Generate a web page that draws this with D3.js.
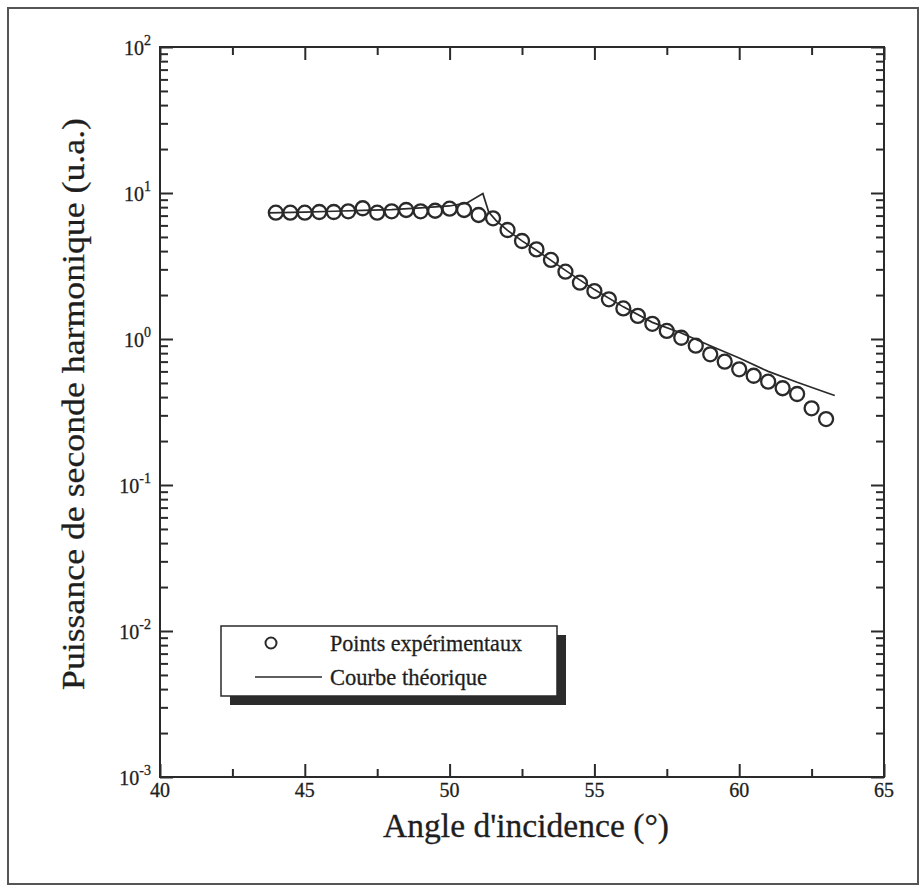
<!DOCTYPE html>
<html>
<head>
<meta charset="utf-8">
<script src="https://cdn.jsdelivr.net/npm/d3@7/dist/d3.min.js"></script>
<style>
  html, body { margin: 0; padding: 0; background: #fff; }
  svg { display: block; }
  text { font-family: "Liberation Serif", "Times New Roman", "DejaVu Serif", serif; fill: #1e1e1e; stroke: #1e1e1e; stroke-width: 0.3px; }
</style>
</head>
<body>
<svg id="chart" width="922" height="889"></svg>
<script>
// ---- Data ----
const expAngles = [44.0, 44.5, 45.0, 45.5, 46.0, 46.5, 47.0, 47.5, 48.0, 48.5,
                   49.0, 49.5, 50.0, 50.5, 51.0, 51.5, 52.0, 52.5, 53.0, 53.5,
                   54.0, 54.5, 55.0, 55.5, 56.0, 56.5, 57.0, 57.5, 58.0, 58.5,
                   59.0, 59.5, 60.0, 60.5, 61.0, 61.5, 62.0, 62.5, 63.0];
const expPower = [7.33, 7.33, 7.33, 7.41, 7.41, 7.49, 7.86, 7.33, 7.49, 7.65,
                  7.49, 7.56, 7.81, 7.65, 7.07, 6.71, 5.58, 4.69, 4.11, 3.48,
                  2.89, 2.43, 2.13, 1.87, 1.62, 1.44, 1.27, 1.135, 1.02, 0.90,
                  0.785, 0.70, 0.62, 0.56, 0.51, 0.46, 0.42, 0.335, 0.283];
const theoAngles = [43.75, 45, 46, 47, 48, 49, 50, 50.6, 51.15, 51.35, 51.6, 52, 52.5,
                    53, 54, 55, 56, 57, 58, 59, 60, 61, 62, 63, 63.3];
const theoPower = [7.3, 7.4, 7.5, 7.6, 7.7, 7.9, 8.15, 8.55, 9.9, 7.4, 6.5, 5.55, 4.7,
                   4.05, 2.95, 2.18, 1.66, 1.3, 1.1, 0.9, 0.74, 0.6, 0.505, 0.43, 0.41];
const xMajorTicks = [40, 45, 50, 55, 60, 65];
const xMinorTicks = [42.5, 47.5, 52.5, 57.5, 62.5];
const yMajorTicks = [1e-3, 1e-2, 1e-1, 1e0, 1e1, 1e2];
const yTickExponents = ["-3", "-2", "-1", "0", "1", "2"];
const xTitle = "Angle d'incidence (°)";
const yTitle = "Puissance de seconde harmonique (u.a.)";
const legendLabels = ["Points expérimentaux", "Courbe théorique"];

// ---- Layout ----
const svg = d3.select("#chart");
const L = 160, R = 884, T = 47, B = 777;
const x = d3.scaleLinear().domain([40, 65]).range([L, R]);
const y = d3.scaleLog().domain([1e-3, 1e2]).range([B, T]);
const ink = "#2a2a2a";

// outer frame
svg.append("rect").attr("x", 8).attr("y", 8).attr("width", 910).attr("height", 876)
  .attr("fill", "none").attr("stroke", "#555").attr("stroke-width", 2);

// minor y ticks (2..9 of each decade)
const yMinor = [];
for (let e = -3; e < 2; e++) for (let k = 2; k <= 9; k++) yMinor.push(k * Math.pow(10, e));

const g = svg.append("g");
const majLen = 13, minLen = 8;

function styleAxis(sel) {
  sel.select(".domain").remove();
  sel.selectAll("line").attr("stroke", ink).attr("stroke-width", 2);
  sel.selectAll("text").remove();
}
g.append("g").attr("transform", `translate(0,${B})`)
  .call(d3.axisTop(x).tickValues(xMajorTicks).tickSize(majLen)).call(styleAxis);
g.append("g").attr("transform", `translate(0,${B})`)
  .call(d3.axisTop(x).tickValues(xMinorTicks).tickSize(minLen)).call(styleAxis);
g.append("g").attr("transform", `translate(0,${T})`)
  .call(d3.axisBottom(x).tickValues(xMajorTicks).tickSize(majLen)).call(styleAxis);
g.append("g").attr("transform", `translate(0,${T})`)
  .call(d3.axisBottom(x).tickValues(xMinorTicks).tickSize(minLen)).call(styleAxis);
g.append("g").attr("transform", `translate(${L},0)`)
  .call(d3.axisRight(y).tickValues(yMajorTicks).tickSize(majLen)).call(styleAxis);
g.append("g").attr("transform", `translate(${L},0)`)
  .call(d3.axisRight(y).tickValues(yMinor).tickSize(minLen)).call(styleAxis);
g.append("g").attr("transform", `translate(${R},0)`)
  .call(d3.axisLeft(y).tickValues(yMajorTicks).tickSize(majLen)).call(styleAxis);
g.append("g").attr("transform", `translate(${R},0)`)
  .call(d3.axisLeft(y).tickValues(yMinor).tickSize(minLen)).call(styleAxis);

// plot frame
g.append("rect").attr("x", L).attr("y", T).attr("width", R - L).attr("height", B - T)
  .attr("fill", "none").attr("stroke", ink).attr("stroke-width", 2);

// x tick labels
g.selectAll(".xl").data(xMajorTicks).join("text")
  .attr("x", d => x(d)).attr("y", B + 20).attr("text-anchor", "middle")
  .attr("font-size", 20).text(d => d);

// y tick labels 10^n
yMajorTicks.forEach((v, i) => {
  const t = g.append("text").attr("x", L - 9).attr("y", y(v) + 8)
    .attr("text-anchor", "end").attr("font-size", 20);
  t.append("tspan").text("10");
  t.append("tspan").attr("dy", -10).attr("font-size", 14).text(yTickExponents[i]);
});

// titles
svg.append("text").attr("x", 526).attr("y", 837).attr("text-anchor", "middle")
  .attr("font-size", 33).attr("textLength", 286).attr("lengthAdjust", "spacingAndGlyphs")
  .text(xTitle);
svg.append("text").attr("transform", `translate(84,404) rotate(-90)`)
  .attr("text-anchor", "middle").attr("font-size", 32)
  .attr("textLength", 572).attr("lengthAdjust", "spacingAndGlyphs")
  .text(yTitle);

// theoretical curve
const line = d3.line().x((d, i) => x(theoAngles[i])).y(d => y(d));
g.append("path").datum(theoPower).attr("d", line)
  .attr("fill", "none").attr("stroke", ink).attr("stroke-width", 1.7);

// experimental points
g.selectAll(".pt").data(expPower).join("circle")
  .attr("cx", (d, i) => x(expAngles[i])).attr("cy", d => y(d)).attr("r", 7)
  .attr("fill", "none").attr("stroke", ink).attr("stroke-width", 2.3);

// legend with drop shadow
const lg = svg.append("g");
lg.append("rect").attr("x", 230).attr("y", 635).attr("width", 336).attr("height", 70)
  .attr("fill", "#2b2b2b");
lg.append("rect").attr("x", 221).attr("y", 626).attr("width", 336).attr("height", 70)
  .attr("fill", "#fff").attr("stroke", ink).attr("stroke-width", 1.5);
lg.append("circle").attr("cx", 271).attr("cy", 643).attr("r", 5.5)
  .attr("fill", "none").attr("stroke", ink).attr("stroke-width", 2);
lg.append("line").attr("x1", 255).attr("x2", 322).attr("y1", 677).attr("y2", 677)
  .attr("stroke", ink).attr("stroke-width", 1.5);
lg.append("text").attr("x", 330).attr("y", 651).attr("font-size", 23)
  .attr("textLength", 192).attr("lengthAdjust", "spacingAndGlyphs").text(legendLabels[0]);
lg.append("text").attr("x", 330).attr("y", 685).attr("font-size", 23)
  .attr("textLength", 157).attr("lengthAdjust", "spacingAndGlyphs").text(legendLabels[1]);
</script>
</body>
</html>
